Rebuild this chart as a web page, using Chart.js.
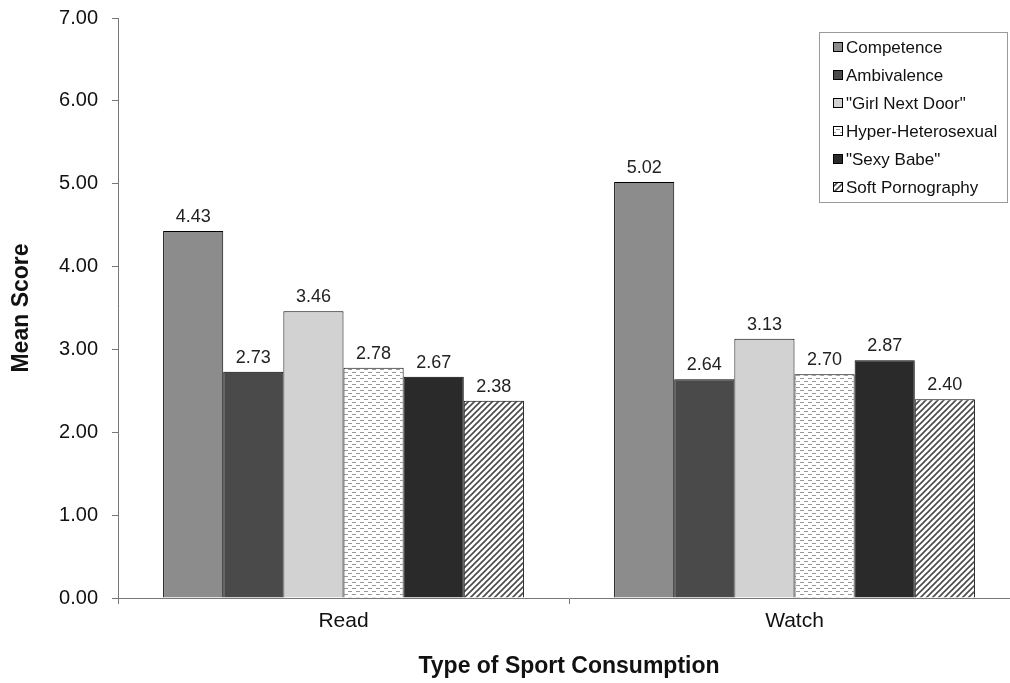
<!DOCTYPE html>
<html>
<head>
<meta charset="utf-8">
<script src="https://cdn.jsdelivr.net/npm/chart.js@4.4.1/dist/chart.umd.min.js"></script>
<style>
  html, body { margin: 0; padding: 0; background: #fff; overflow: hidden; }
  #wrap { width: 1030px; height: 683px; }
</style>
</head>
<body>
<div id="wrap"><canvas id="bar-chart" width="1030" height="683"></canvas></div>
<script>
categories = ['Read', 'Watch']
seriesNames = ['Competence', 'Ambivalence', '"Girl Next Door"', 'Hyper-Heterosexual', '"Sexy Babe"', 'Soft Pornography']
competence = [4.43, 5.02]
ambivalence = [2.73, 2.64]
girlNextDoor = [3.46, 3.13]
hyperHetero = [2.78, 2.70]
sexyBabe = [2.67, 2.87]
softPorn = [2.38, 2.40]
yTicks = ['0.00', '1.00', '2.00', '3.00', '4.00', '5.00', '6.00', '7.00']

FONT = '"Liberation Sans", Arial, sans-serif'

// small dashes on white, staggered rows
dashPattern = function(){
    var c = document.createElement('canvas')
    c.width = 8; c.height = 6
    var g = c.getContext('2d')
    g.fillStyle = '#fff'
    g.fillRect(0, 0, 8, 6)
    g.fillStyle = '#999'
    g.fillRect(0, 0, 4, 1)
    g.fillRect(4, 3, 4, 1)
    return g.createPattern(c, 'repeat')
}
// diagonal "/" hatching
hatchPattern = function(){
    var c = document.createElement('canvas')
    c.width = 6; c.height = 6
    var g = c.getContext('2d')
    g.fillStyle = '#fff'
    g.fillRect(0, 0, 6, 6)
    g.strokeStyle = '#4a4a4a'
    g.lineWidth = 1.6
    g.beginPath()
    g.moveTo(-1, 7); g.lineTo(7, -1)
    g.moveTo(-4, 4); g.lineTo(4, -4)
    g.moveTo(2, 10); g.lineTo(10, 2)
    g.stroke()
    return g.createPattern(c, 'repeat')
}

fills = ['#8c8c8c', '#4a4a4a', '#d2d2d2', dashPattern(), '#2a2a2a', hatchPattern()]
values = [competence, ambivalence, girlNextDoor, hyperHetero, sexyBabe, softPorn]

datasets = seriesNames.map(function(name, i){
    return {
        label: name,
        data: values[i],
        backgroundColor: fills[i],
        borderColor: '#000',
        borderWidth: 1,
        borderSkipped: 'bottom',
        categoryPercentage: 0.8,
        barPercentage: 1.0
    }
})

// numbers above each bar
valueLabels = {
    id: 'valueLabels',
    afterDatasetsDraw: function(chart){
        var ctx = chart.ctx
        ctx.save()
        ctx.font = '18px ' + FONT
        ctx.fillStyle = '#222'
        ctx.textAlign = 'center'
        ctx.textBaseline = 'alphabetic'
        chart.data.datasets.forEach(function(ds, i){
            chart.getDatasetMeta(i).data.forEach(function(bar, j){
                ctx.fillText(ds.data[j].toFixed(2), bar.x, bar.y - 9)
            })
        })
        ctx.restore()
    }
}

// boxed legend in the upper right
boxLegend = {
    id: 'boxLegend',
    afterDraw: function(chart){
        var ctx = chart.ctx
        var x = 819, y = 32, w = 188, h = 170
        ctx.save()
        ctx.fillStyle = '#fff'
        ctx.fillRect(x, y, w, h)
        ctx.strokeStyle = '#9a9a9a'
        ctx.lineWidth = 1
        ctx.strokeRect(x + 0.5, y + 0.5, w, h)
        ctx.font = '17px ' + FONT
        ctx.textBaseline = 'middle'
        chart.data.datasets.forEach(function(ds, i){
            var cy = 47 + i * 28
            ctx.fillStyle = ds.backgroundColor
            ctx.fillRect(833, cy - 5, 10, 10)
            ctx.strokeStyle = '#000'
            ctx.strokeRect(833.5, cy - 4.5, 9, 9)
            ctx.fillStyle = '#111'
            ctx.fillText(ds.label, 846, cy + 1)
        })
        ctx.restore()
    }
}

ctx = document.getElementById('bar-chart')
config = {
    type: 'bar',
    data: { labels: categories, datasets: datasets },
    options: {
        responsive: false,
        animation: false,
        layout: { padding: { left: 0, top: 18, right: 10, bottom: 0 } },
        plugins: { legend: { display: false }, tooltip: { enabled: false } },
        scales: {
            x: {
                grid: { display: true, offset: true, drawOnChartArea: false, drawTicks: true, tickLength: 6, color: '#777' },
                border: { display: true, color: '#777', width: 1 },
                ticks: { color: '#111', font: { family: FONT, size: 21 }, padding: 5 },
                title: { display: true, text: 'Type of Sport Consumption', color: '#111', font: { family: FONT, size: 23, weight: 'bold' }, padding: { top: 0, bottom: 3 } },
                afterFit: function(scale){ scale.height = 85; scale.paddingLeft = 0; scale.paddingRight = 0 }
            },
            y: {
                min: 0, max: 7,
                grid: { display: true, drawOnChartArea: false, drawTicks: true, tickLength: 6, color: '#777' },
                border: { display: true, color: '#777', width: 1 },
                ticks: {
                    stepSize: 1, color: '#111', padding: 14,
                    font: { family: FONT, size: 20 },
                    callback: function(v){ return yTicks[v] }
                },
                title: { display: true, text: 'Mean Score', color: '#111', font: { family: FONT, size: 23, weight: 'bold' }, padding: { top: 8, bottom: 0 } },
                afterFit: function(scale){ scale.width = 118; scale.paddingTop = 0; scale.paddingBottom = 0 }
            }
        }
    },
    plugins: [valueLabels, boxLegend]
}
createNewChart = new Chart(ctx, config)
</script>
</body>
</html>
